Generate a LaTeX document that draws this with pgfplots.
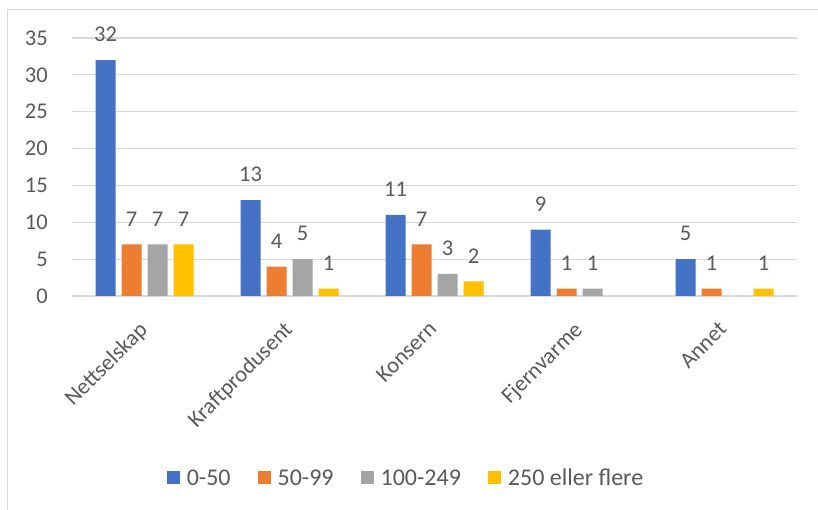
\documentclass[border=0pt]{standalone}
\usepackage{fontspec}
\setmainfont{Carlito}
\usepackage{pgfplots}
\pgfplotsset{compat=1.18}
\definecolor{cBlue}{HTML}{4472C4}
\definecolor{cOrange}{HTML}{ED7D31}
\definecolor{cGray}{HTML}{A5A5A5}
\definecolor{cGold}{HTML}{FFC000}
\definecolor{txt}{HTML}{595959}
\definecolor{gridc}{HTML}{D9D9D9}
\begin{document}
\begin{tikzpicture}[x=1pt,y=1pt]
\useasboundingbox (0,0) rectangle (818,510);
\draw[gridc, line width=1pt] (7.5,0) -- (7.5,500.5) -- (818,500.5);
\begin{axis}[
  at={(72pt,214pt)}, anchor=south west,
  scale only axis, width=725pt, height=258pt,
  xmin=-0.5, xmax=4.5, ymin=0, ymax=35,
  ybar=6pt, bar width=20pt,
  xtick={0,...,4},
  xticklabels={Nettselskap,Kraftprodusent,Konsern,Fjernvarme,Annet},
  ytick={0,5,...,35},
  ymajorgrids, grid style={line width=1.2pt, color=gridc},
  axis line style={draw=none}, tick style={draw=none},
  major tick length=0pt,
  clip=false,
  tick label style={font=\fontsize{22.5}{26}\selectfont, text=txt},
  /pgf/number format/assume math mode=true,
  yticklabel style={anchor=east, inner sep=0pt, xshift=-24pt},
  xticklabel style={xshift=-7pt, yshift=-24pt, rotate=45, anchor=north east, inner sep=0pt},
  nodes near coords,
  every node near coord/.append style={font=\fontsize{22.5}{26}\selectfont, text=txt, anchor=south, inner sep=0pt, yshift=18pt},
  legend style={at={(0.4593,-0.7054)}, anchor=center, legend columns=4, draw=none, fill=none,
    font=\fontsize{24}{28}\selectfont, text=txt,
    nodes={inner sep=0pt},
    /tikz/every odd column/.append style={column sep=7pt},
    /tikz/every even column/.append style={column sep=27pt}},
  legend image code/.code={\fill[#1] (0pt,-6.5pt) rectangle (13pt,6.5pt);},
]
\addplot[fill=cBlue, draw=none] coordinates {(0,32) (1,13) (2,11) (3,9) (4,5)};
\addplot[fill=cOrange, draw=none] coordinates {(0,7) (1,4) (2,7) (3,1) (4,1)};
\addplot[fill=cGray, draw=none] coordinates {(0,7) (1,5) (2,3) (3,1)};
\addplot[fill=cGold, draw=none] coordinates {(0,7) (1,1) (2,2) (4,1)};
\legend{0-50,50-99,100-249,250 eller flere}
\end{axis}
\end{tikzpicture}
\end{document}
